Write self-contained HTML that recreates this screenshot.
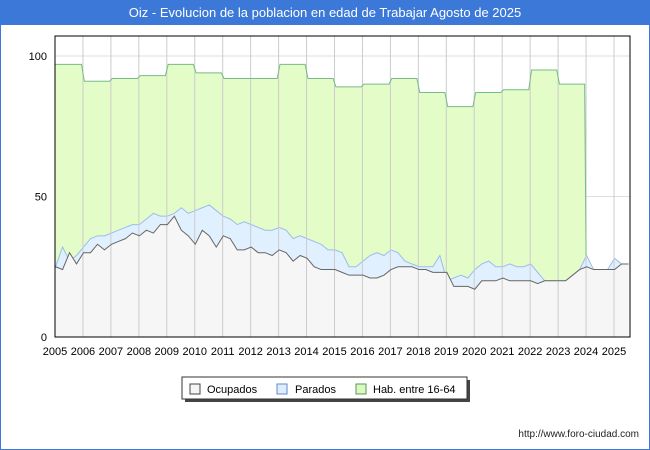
<!DOCTYPE html>
<html><head><meta charset="utf-8"><style>
body{margin:0;background:#fff;font-family:"Liberation Sans",sans-serif}
#wrap{position:relative;width:650px;height:450px;overflow:hidden}
</style></head><body>
<div id="wrap">
<svg id="svg" width="650" height="450" xmlns="http://www.w3.org/2000/svg" font-family="Liberation Sans">
<rect x="0" y="0" width="650" height="25" fill="#3b78d8"/>
<text x="325" y="17" fill="#fff" font-size="13" text-anchor="middle">Oiz - Evolucion de la poblacion en edad de Trabajar Agosto de 2025</text>
<g id="plot"></g>
<g>
<rect x="185" y="380" width="285" height="22" fill="#444"/>
<rect x="182" y="377" width="285" height="22" fill="#fff" stroke="#333"/>
<rect x="190" y="384" width="10" height="10" fill="#f5f5f5" stroke="#444"/>
<text x="207" y="393" font-size="11">Ocupados</text>
<rect x="277" y="384" width="10" height="10" fill="#ddeeff" stroke="#6688cc"/>
<text x="295" y="393" font-size="11">Parados</text>
<rect x="356" y="384" width="10" height="10" fill="#ddf8c0" stroke="#559955"/>
<text x="373" y="393" font-size="11">Hab. entre 16-64</text>
</g>
<text x="639" y="437" font-size="10" text-anchor="end" fill="#222">http://www.foro-ciudad.com</text>
<rect x="0.5" y="0.5" width="649" height="449" fill="none" stroke="#3b78d8"/>
</svg>
</div>
<script>
const years=[2005,2006,2007,2008,2009,2010,2011,2012,2013,2014,2015,2016,2017,2018,2019,2020,2021,2022,2023,2024,2025];
const habYears=[2005,2006,2007,2008,2009,2010,2011,2012,2013,2014,2015,2016,2017,2018,2019,2020,2021,2022,2023];
const habValues=[97,91,92,93,97,94,92,92,97,92,89,90,92,87,82,87,88,95,90];
const ocupados=[25,24,30,26, 30,30,33,31, 33,34,35,37, 36,38,37,40, 40,43,38,36, 33,38,36,32, 36,35,31,31, 32,30,30,29, 31,30,27,29, 28,25,24,24, 24,23,22,22, 22,21,21,22, 24,25,25,25, 24,24,23,23, 23,18,18,18, 17,20,20,20, 21,20,20,20, 20,19,20,20, 20,20,22,24, 25,24,24,24, 24,26,26];
const totalParados=[25,32,27,29, 32,35,36,36, 37,38,39,40, 40,42,44,43, 43,44,46,44, 45,46,47,45, 43,42,40,41, 40,39,38,38, 39,38,35,36, 35,34,33,31, 31,30,25,25, 27,29,30,29, 31,30,27,26, 25,25,25,29, 20,21,22,21, 24,26,27,25, 25,26,25,25, 26,23,20,20, 20,20,22,24, 29,24,24,24, 28,26,26];
const yTicks=[0,50,100];
const X0=55,X1=630,Y0=337,YT=36;
const xs=t=>X0+(t-2005)*27.95;
const ys=v=>Y0-v*2.81;
const ns='http://www.w3.org/2000/svg';
const plot=document.getElementById('plot');
function mk(tag,attrs){const e=document.createElementNS(ns,tag);for(const k in attrs)e.setAttribute(k,attrs[k]);plot.appendChild(e);return e;}
const bg=mk('rect',{x:X0,y:YT,width:X1-X0,height:Y0-YT,fill:'#fff'});


yTicks.forEach(v=>{const l=mk('line',{x1:X0,x2:X1,y1:ys(v),y2:ys(v),stroke:'#ddd'});


const t=mk('text',{x:X0-8,y:ys(v)+4,'font-size':11,'text-anchor':'end'});t.textContent=v;

});
const tq=i=>2005+i*0.25;
let hp='';habYears.forEach((y,i)=>{hp+=(i?'L':'M')+xs(i?y+0.05:y)+','+ys(habValues[i])+'L'+xs(y+0.95)+','+ys(habValues[i]);});
const lastIdx=(2024-2005)*4;
const habFill=mk('path',{d:hp+'L'+xs(2024)+','+ys(totalParados[lastIdx])+'L'+xs(2024)+','+Y0+'L'+xs(2005)+','+Y0+'Z',fill:'#e4fcc8'});


function series(arr){return arr.map((v,i)=>xs(tq(i)+0.02)+','+ys(v)).join('L');}
const endT=tq(totalParados.length-1)+0.02;
const par=mk('path',{d:'M'+series(totalParados)+'L'+xs(endT)+','+Y0+'L'+xs(2005.02)+','+Y0+'Z',fill:'#e0f0ff'});


const parL=mk('path',{d:'M'+series(totalParados),fill:'none',stroke:'#9bbcee','stroke-width':1});


const oc=mk('path',{d:'M'+series(ocupados)+'L'+xs(endT)+','+Y0+'L'+xs(2005.02)+','+Y0+'Z',fill:'#f6f6f6'});


years.forEach(y=>{if(y>2005){const l=mk('line',{x1:xs(y),x2:xs(y),y1:YT,y2:Y0,stroke:'#ccc'});

}
const t=mk('text',{x:xs(y),y:355,'font-size':11,'text-anchor':'middle'});t.textContent=y;

});
const ocL=mk('path',{d:'M'+series(ocupados),fill:'none',stroke:'#666','stroke-width':1});


const habL=mk('path',{d:hp+'L'+xs(2024)+','+ys(totalParados[lastIdx]),fill:'none',stroke:'#77bb88','stroke-width':1});


const fr=mk('rect',{x:X0,y:YT,width:X1-X0,height:Y0-YT,fill:'none',stroke:'#000','stroke-width':1});


</script>
</body></html>
